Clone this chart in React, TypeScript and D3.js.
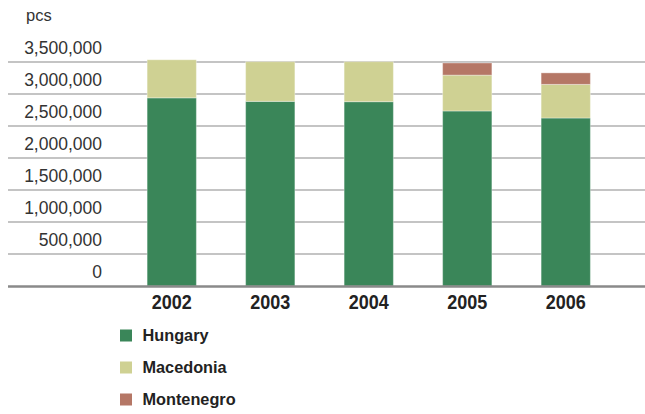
import React from "react";
import * as d3 from "d3";

const years = ["2002", "2003", "2004", "2005", "2006"];
const hungary = [2940000, 2885000, 2880000, 2735000, 2625000];
const macedonia = [595000, 620000, 625000, 560000, 525000];
const montenegro = [0, 0, 0, 190000, 180000];
const yTicks = [0, 500000, 1000000, 1500000, 2000000, 2500000, 3000000, 3500000];
const seriesNames = ["Hungary", "Macedonia", "Montenegro"];
const colors = ["#3a8659", "#cfd193", "#b57766"];
const unitLabel = "pcs";

export default function App() {
  const W = 645, H = 414;
  const y = d3.scaleLinear().domain([0, 3500000]).range([286, 62]);
  const x = d3.scaleBand().domain(years).range([122.5, 615]).paddingInner(0.5).paddingOuter(0.25);
  const rows = years.map((yr, i) => ({ year: yr, Hungary: hungary[i], Macedonia: macedonia[i], Montenegro: montenegro[i] }));
  const stacked = d3.stack<any>().keys(seriesNames)(rows);
  const fmt = d3.format(",");
  const font = "'Liberation Sans', Arial, sans-serif";
  return (
    <svg width={W} height={H} style={{ position: "absolute", left: 0, top: 0, background: "#fff" }} fontFamily={font}>
      <text x={26} y={21} fontSize={16.5} fill="#333">{unitLabel}</text>
      {yTicks.map((t) => (
        <g key={t}>
          {t > 0 && <line x1={8} x2={645} y1={y(t)} y2={y(t)} stroke="#8a8a8a" strokeWidth={1.2} />}
          <text x={102} y={y(t) - 8.5} textAnchor="end" fontSize={17.5} fill="#333">{fmt(t)}</text>
        </g>
      ))}
      {stacked.map((s, si) => (
        <g key={s.key}>
          {s.map((d, i) => d[1] - d[0] > 0 ? (
            <rect key={i} x={x(years[i])!} width={x.bandwidth()} y={y(d[1])} height={y(d[0]) - y(d[1])}
              fill={colors[si]} stroke="rgba(255,255,255,0.35)" strokeWidth={1} />
          ) : null)}
        </g>
      ))}
      <line x1={8} x2={645} y1={286.5} y2={286.5} stroke="#8a8a8a" strokeWidth={2.5} />
      {years.map((yr) => (
        <text key={yr} transform={`translate(${x(yr)! + x.bandwidth() / 2}, 308.5) scale(1, 1.1)`} textAnchor="middle" fontSize={18} fontWeight="bold" fill="#222">{yr}</text>
      ))}
      {seriesNames.map((n, i) => (
        <g key={n} transform={`translate(120, ${329.5 + i * 32})`}>
          <rect x={0} y={0} width={12} height={12} fill={colors[i]} />
          <text x={22.5} y={11.8} fontSize={16.3} fontWeight="bold" fill="#222">{n}</text>
        </g>
      ))}
    </svg>
  );
}
